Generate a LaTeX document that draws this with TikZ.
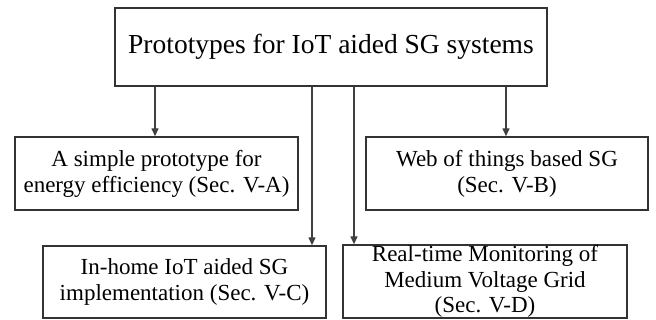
\documentclass[tikz,border=0pt]{standalone}
\usepackage{fontspec}
\setmainfont{Liberation Serif}
\usetikzlibrary{arrows.meta}
\begin{document}
\begin{tikzpicture}[x=1pt,y=-1pt,
  box/.style={draw=black!80,line width=1.4pt,fill=white,align=center,inner sep=0pt,
    font=\fontsize{23}{26}\selectfont},
  conn/.style={draw=black!75,line width=1.4pt,-{Triangle[length=8pt,width=7pt]}}]
\useasboundingbox (0,0) rectangle (656,320);
\node[box,minimum width=432pt,minimum height=78pt,font=\fontsize{27.5}{31}\selectfont] (top) at (331,47) {Prototypes for IoT aided SG systems};
\node[box,minimum width=283pt,minimum height=73pt] (A) at (156.5,173.5) {A simple prototype for\\energy efficiency (Sec. V-A)};
\node[box,minimum width=282pt,minimum height=73pt] (B) at (507,173.5) {Web of things based SG\\(Sec. V-B)};
\node[box,minimum width=283pt,minimum height=72pt] (C) at (184.5,282) {In-home IoT aided SG\\implementation (Sec. V-C)};
\node[box,minimum width=284pt,minimum height=73pt,font=\fontsize{23}{25.5}\selectfont] (D) at (485,281.5) {Real-time Monitoring of\\Medium Voltage Grid\\(Sec. V-D)};
\coordinate (xa) at (155,0);
\coordinate (xb) at (506,0);
\coordinate (xc) at (312,0);
\coordinate (xd) at (354,0);
\draw[conn] (top.south -| xa) -- (A.north -| xa);
\draw[conn] (top.south -| xb) -- (B.north -| xb);
\draw[conn] (top.south -| xc) -- (C.north -| xc);
\draw[conn] (top.south -| xd) -- (D.north -| xd);
\end{tikzpicture}
\end{document}
